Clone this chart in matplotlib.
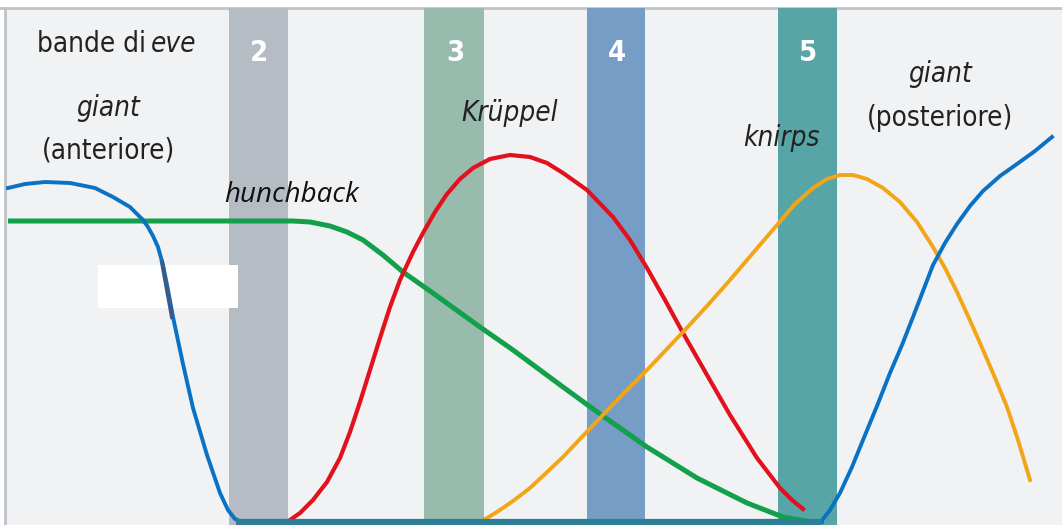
import matplotlib
matplotlib.use("Agg")
import matplotlib.pyplot as plt
from matplotlib.patches import Rectangle

# ---- data (pixel-like coordinates) ----
band_labels = ["2", "3", "4", "5"]
band_left = [229, 424, 587, 778]
band_right = [288, 484, 645, 837]
band_colors = ["#B5BCC3", "#98BBAE", "#769DC6", "#58A5A8"]

giant_ant_x = [8, 25, 45, 70, 95, 113, 130, 143, 148, 153, 158, 163, 168, 173, 183, 193, 207, 220, 228, 235, 242, 822]
giant_ant_y = [188, 184, 182, 183, 188, 197, 207, 220, 227, 236, 247, 265, 290, 317, 364, 408, 455, 493, 510, 519, 522, 522]

giant_post_x = [820, 830, 840, 852, 863, 877, 890, 902, 913, 923, 933, 945, 957, 970, 983, 1000, 1017, 1035, 1052]
giant_post_y = [523, 510, 493, 467, 440, 406, 373, 345, 317, 291, 265, 243, 224, 206, 191, 176, 164, 151, 137]

hb_x = [8, 100, 200, 280, 293, 310, 330, 347, 363, 383, 403, 430, 455, 480, 513, 540, 563, 600, 647, 697, 747, 783, 812]
hb_y = [221, 221, 221, 221, 221, 222, 226, 232, 240, 255, 272, 291, 309, 327, 350, 370, 387, 414, 447, 478, 503, 517, 522]

kr_x = [290, 300, 313, 327, 340, 350, 360, 370, 380, 390, 400, 413, 423, 435, 447, 460, 473, 490, 510, 530, 547, 563, 587, 613, 630, 647, 665, 683, 707, 730, 757, 780, 792, 803]
kr_y = [520, 513, 500, 482, 458, 432, 402, 370, 338, 307, 280, 252, 233, 212, 194, 179, 168, 159, 155, 157, 163, 173, 190, 217, 240, 268, 300, 333, 375, 415, 458, 488, 500, 509]

kn_x = [482, 497, 513, 530, 545, 563, 580, 600, 623, 647, 665, 683, 707, 730, 753, 777, 795, 813, 827, 840, 853, 867, 883, 900, 917, 933, 945, 957, 968, 980, 993, 1007, 1018, 1030]
kn_y = [521, 512, 501, 488, 474, 457, 439, 418, 394, 370, 351, 332, 306, 280, 253, 225, 204, 188, 179, 175, 175, 179, 188, 202, 222, 247, 268, 292, 316, 343, 373, 407, 440, 480]

W, H = 1062, 525
fig = plt.figure(figsize=(W / 100, H / 100), dpi=100)
ax = fig.add_axes([0, 0, 1, 1])
ax.set_xlim(0, W)
ax.set_ylim(H, 0)
ax.axis("off")

ax.add_patch(Rectangle((5, 8), W - 5, H - 8, facecolor="#F1F2F4", edgecolor="none", zorder=0))
ax.plot([0, W], [8, 8], color="#BFC2C6", lw=2, zorder=1)
ax.plot([5, 5], [8, H], color="#BFC2C6", lw=2, zorder=1)

fam = ["DejaVu Sans"]
for lab, x0, x1, c in zip(band_labels, band_left, band_right, band_colors):
    ax.add_patch(Rectangle((x0, 8), x1 - x0, H - 8, facecolor=c, edgecolor="none", zorder=1))
    ax.text((x0 + x1) / 2 + 1, 53, lab, color="white", fontsize=21, fontweight="bold",
            fontstretch="condensed", ha="center", va="center", family=fam, zorder=5)

# white label box
ax.add_patch(Rectangle((98, 265), 140, 43, facecolor="white", edgecolor="none", zorder=2))

ax.plot(hb_x, hb_y, color="#12A04A", lw=3.6, solid_capstyle="butt", solid_joinstyle="round", zorder=3)
ax.plot(kr_x, kr_y, color="#E3101E", lw=3.0, solid_joinstyle="round", zorder=3)
ax.plot(kn_x, kn_y, color="#F2A516", lw=2.8, solid_joinstyle="round", zorder=3)
ax.plot(giant_ant_x, giant_ant_y, color="#0A72C4", lw=2.8, solid_joinstyle="round", zorder=3)
ax.plot(giant_post_x, giant_post_y, color="#0A72C4", lw=2.8, solid_joinstyle="round", zorder=3)
ax.plot([162, 172], [262, 317], color="#3A5A8C", lw=3.0, zorder=4)

# bottom teal bar
ax.plot([236, 822], [522, 522], color="#2B7E96", lw=4.5, solid_capstyle="butt", zorder=4)

fs = 20
kw = dict(fontsize=fs, family=fam, fontstretch="condensed", color="#222222", zorder=5)
t = ax.text(37, 44, "bande di", ha="left", va="center", **kw)
ax.annotate("eve", xy=(1, 0.5), xycoords=t, xytext=(5, 0), textcoords="offset pixels",
            ha="left", va="center", style="italic", **kw)
ax.text(108, 108, "giant", style="italic", ha="center", va="center", **kw)
ax.text(108, 150, "(anteriore)", ha="center", va="center", **kw)
ax.text(292, 195, "hunchback", fontsize=20, family=["Open Sans", "DejaVu Sans"], style="italic",
        ha="center", va="center", color="#111111", zorder=5)
ax.text(510, 113, "Krüppel", style="italic", ha="center", va="center", **kw)
ax.text(781, 138, "knirps", style="italic", ha="center", va="center", **kw)
ax.text(940, 74, "giant", style="italic", ha="center", va="center", **kw)
ax.text(940, 118, "(posteriore)", ha="center", va="center", **kw)

fig.savefig("out.png", dpi=100)
